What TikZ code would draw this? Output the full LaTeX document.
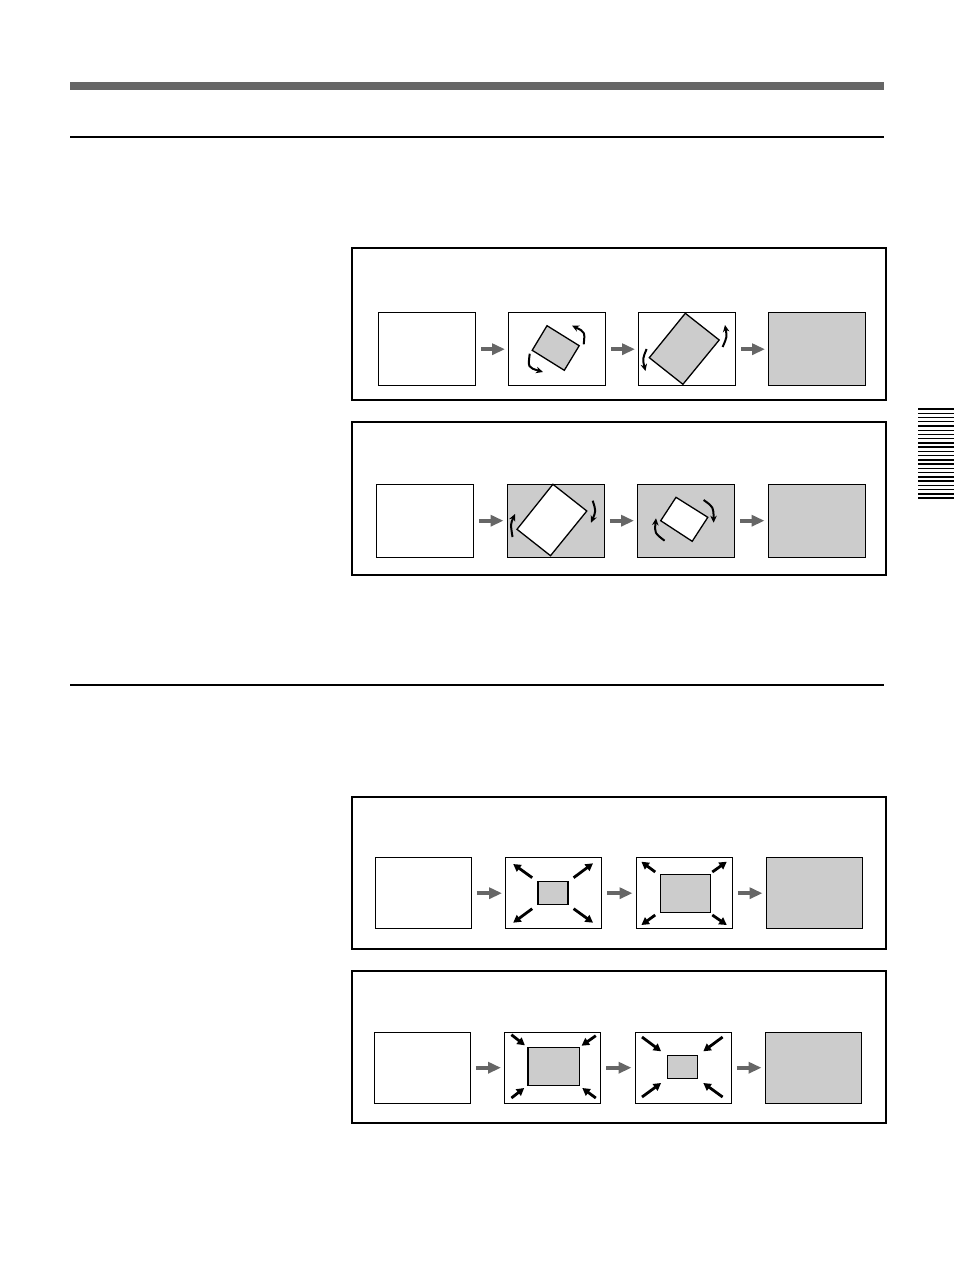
\documentclass[tikz,border=0pt]{standalone}
\usetikzlibrary{arrows.meta}
\definecolor{barg}{HTML}{666666}
\definecolor{fillg}{HTML}{CCCCCC}
\begin{document}
\begin{tikzpicture}[x=1pt,y=-1pt,
  panel/.style={draw=black,line width=1.1pt},
  frame/.style={draw=black,line width=1.4pt,minimum width=97pt,minimum height=73pt,inner sep=0pt,anchor=north west,fill=white},
  sframe/.style={frame,minimum width=96pt,minimum height=71pt},
  gfill/.style={fill=fillg},
  flow/.style={draw=barg,line width=4pt,-{Triangle[length=13pt,width=11pt]}},
  rot/.style={draw=black,line width=1.3pt,line join=miter},
  curv/.style={draw=black,line width=2pt,-{Stealth[length=7pt,width=6.5pt]}},
  zoomarr/.style={draw=black,line width=2.8pt,-{Triangle[length=7.5pt,width=8pt]}},
  tabline/.style={draw=black,line width=1.4pt}]
\useasboundingbox[fill=white] (0,0) rectangle (954,1274);
% header bar and rules
\fill[barg] (70,82) rectangle (884,90);
\draw[line width=1.2pt] (70,137) -- (884,137);
\draw[line width=1.2pt] (70,685) -- (884,685);
% side tab
\foreach \i in {0,...,21} {
  \draw[tabline] (918,{409+\i*4.24}) -- (954,{409+\i*4.24});
}
% ---------- panel 1 ----------
\draw[panel] (352,248) rectangle (886,400);
\node[frame] (a1) at (378,312) {};
\node[frame] (a2) at (508,312) {};
\node[frame] (a3) at (638,312) {};
\node[frame,gfill] (a4) at (768,312) {};
\draw[rot,fill=fillg] (547.0,325.7) -- (579.2,345.7) -- (564.3,370.3) -- (532.2,350.3) -- cycle;
\draw[curv] (583.7,344.3) .. controls (585,332) .. (572,325.5);
\draw[curv] (529.7,353.7) .. controls (528,367.5) .. (543,372);
\draw[rot,fill=fillg] (685.3,313.3) -- (719.2,340) -- (682.9,384.3) -- (649.3,357.7) -- cycle;
\draw[curv] (722.6,347) .. controls (727,337) .. (725,325);
\draw[curv] (646.6,349) .. controls (642.5,359) .. (645.5,371);
\draw[flow] ([xshift=5pt]a1.east) -- ([xshift=-3pt]a2.west);
\draw[flow] ([xshift=5pt]a2.east) -- ([xshift=-3pt]a3.west);
\draw[flow] ([xshift=5pt]a3.east) -- ([xshift=-3pt]a4.west);
% ---------- panel 2 ----------
\draw[panel] (352,422) rectangle (886,575);
\node[frame] (b1) at (376,483.5) {};
\node[frame,gfill] (b2) at (506.5,483.5) {};
\node[frame,gfill] (b3) at (637,483.5) {};
\node[frame,gfill] (b4) at (767.5,483.5) {};
\draw[rot,fill=white] (552.9,484.3) -- (586.8,511) -- (550.5,555.7) -- (517,529.3) -- cycle;
\draw[curv] (512.5,537) .. controls (510.5,524) .. (515,514);
\draw[curv] (592.7,500.7) .. controls (596,511) .. (591,522.7);
\draw[rot,fill=white] (676,497.3) -- (707.8,517.3) -- (692.2,541.3) -- (660.7,520.7) -- cycle;
\draw[curv] (664.6,540.7) .. controls (654.5,533) .. (656,518.3);
\draw[curv] (703.6,500) .. controls (713.5,507) .. (713.6,522.7);
\draw[flow] ([xshift=5pt]b1.east) -- ([xshift=-3pt]b2.west);
\draw[flow] ([xshift=5pt]b2.east) -- ([xshift=-3pt]b3.west);
\draw[flow] ([xshift=5pt]b3.east) -- ([xshift=-3pt]b4.west);
% ---------- panel 3 ----------
\draw[panel] (352,797) rectangle (886,949);
\node[sframe] (c1) at (374.5,857) {};
\node[sframe] (c2) at (505,857) {};
\node[sframe] (c3) at (635.5,857) {};
\node[sframe,gfill] (c4) at (765.5,857) {};
\draw[rot,fill=fillg] (538,881.3) rectangle (568.1,904.3);
\draw[zoomarr] (532.2,877.7) -- (513.2,864);
\draw[zoomarr] (573.6,877.7) -- (593,863.3);
\draw[zoomarr] (532.2,908.7) -- (513.2,922.7);
\draw[zoomarr] (573.6,908.7) -- (593,922.7);
\draw[rot,fill=fillg] (660.4,874.3) rectangle (710.5,912.3);
\draw[zoomarr] (655.2,872) -- (641.4,861.7);
\draw[zoomarr] (712.3,872) -- (726.8,861.7);
\draw[zoomarr] (655.2,915) -- (641.4,925);
\draw[zoomarr] (712.3,915) -- (726.8,925);
\draw[flow] ([xshift=5pt]c1.east) -- ([xshift=-3pt]c2.west);
\draw[flow] ([xshift=5pt]c2.east) -- ([xshift=-3pt]c3.west);
\draw[flow] ([xshift=5pt]c3.east) -- ([xshift=-3pt]c4.west);
% ---------- panel 4 ----------
\draw[panel] (352,971) rectangle (886,1123);
\node[sframe] (d1) at (373.5,1031.5) {};
\node[sframe] (d2) at (504,1031.5) {};
\node[sframe] (d3) at (634.5,1031.5) {};
\node[sframe,gfill] (d4) at (764.5,1031.5) {};
\draw[rot,fill=fillg] (528,1047.3) rectangle (579.2,1085.3);
\draw[zoomarr] (511.4,1034.7) -- (524.9,1045.3);
\draw[zoomarr] (595.8,1035.7) -- (581.6,1045.7);
\draw[zoomarr] (511.4,1098) -- (524.2,1088);
\draw[zoomarr] (595.8,1098) -- (582.3,1088);
\draw[rot,fill=fillg] (667.3,1055.3) rectangle (697.7,1078.3);
\draw[zoomarr] (642,1037) -- (661.1,1051.3);
\draw[zoomarr] (722.6,1037) -- (703.3,1051.3);
\draw[zoomarr] (642,1097) -- (661.1,1083);
\draw[zoomarr] (722.6,1097) -- (703.3,1083);
\draw[flow] ([xshift=5pt]d1.east) -- ([xshift=-3pt]d2.west);
\draw[flow] ([xshift=5pt]d2.east) -- ([xshift=-3pt]d3.west);
\draw[flow] ([xshift=5pt]d3.east) -- ([xshift=-3pt]d4.west);
\end{tikzpicture}
\end{document}
